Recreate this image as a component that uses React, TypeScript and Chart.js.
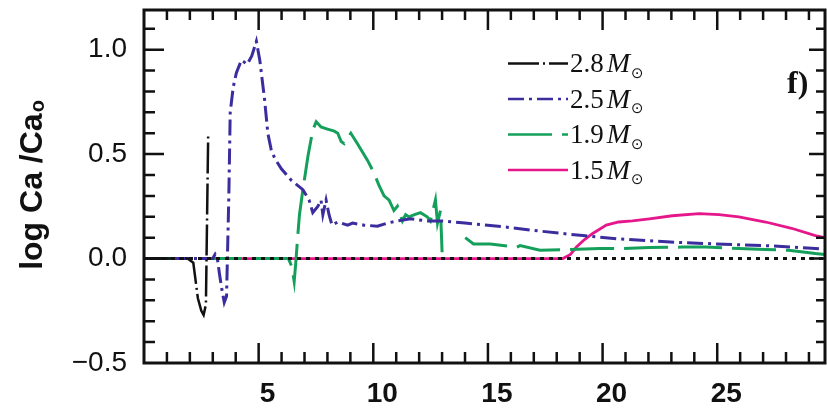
import React, { useEffect, useRef } from "react";
import { Chart, registerables } from "chart.js";
Chart.register(...registerables);

// ---- data ----
const zeroX = [0, 29.7];
const zeroY = [0, 0];

const m28X = [0, 1.9, 2.15, 2.35, 2.5, 2.6, 2.7, 2.8];
const m28Y = [0, 0, -0.02, -0.19, -0.25, -0.27, -0.22, 0.6];

const m25X = [0, 3.0, 3.1, 3.2, 3.3, 3.4, 3.5, 3.6, 3.7, 3.76, 3.89, 4.03, 4.25, 4.5, 4.7, 4.9, 5.05, 5.26, 5.4, 5.55, 5.7, 5.99, 6.42, 6.93, 7.2, 7.36, 7.58, 7.72, 7.8, 7.94, 8.07, 8.2, 8.45, 8.88, 9.1, 9.59, 10.18, 10.62, 11.05, 11.63, 12.35, 13.06, 14.0, 15.84, 16.96, 19.13, 20.6, 22.78, 24.95, 27.11, 29.28, 29.7];
const m25Y = [0, 0, 0.02, 0, -0.08, -0.15, -0.21, -0.18, 0.3, 0.7, 0.82, 0.89, 0.95, 0.93, 0.97, 1.04, 0.95, 0.76, 0.6, 0.52, 0.48, 0.43, 0.375, 0.33, 0.28, 0.22, 0.25, 0.28, 0.21, 0.28, 0.21, 0.16, 0.175, 0.16, 0.17, 0.16, 0.155, 0.17, 0.18, 0.19, 0.18, 0.18, 0.17, 0.15, 0.135, 0.11, 0.095, 0.08, 0.07, 0.062, 0.048, 0.045];

const m19X = [0, 6.3, 6.45, 6.55, 6.62, 6.7, 6.78, 6.93, 7.15, 7.36, 7.51, 7.72, 8.0, 8.3, 8.45, 8.6, 8.73, 9.02, 9.31, 9.75, 10.03, 10.25, 10.47, 10.69, 10.9, 11.05, 11.27, 11.41, 11.55, 11.8, 12.06, 12.35, 12.49, 12.71, 12.8, 12.93, 12.97, 13.0, 13.5, 14.01, 14.37, 15.1, 16.26, 16.4, 17.27, 18.42, 19.87, 20.87, 22.04, 23.47, 24.51, 27.11, 28.11, 29.28, 29.7];
const m19Y = [0, 0, -0.04, -0.11, -0.02, 0.1, 0.21, 0.33, 0.49, 0.615, 0.655, 0.63, 0.62, 0.61, 0.6, 0.56, 0.55, 0.6, 0.55, 0.47, 0.41, 0.35, 0.3, 0.28, 0.23, 0.25, 0.18, 0.21, 0.2, 0.21, 0.22, 0.2, 0.18, 0.28, 0.17, 0.23, 0.12, 0.03, null, 0.1, 0.07, 0.07, 0.055, 0.062, 0.04, 0.043, 0.048, 0.048, 0.053, 0.055, 0.055, 0.043, 0.04, 0.024, 0.02];

const m15X = [2.8, 18.27, 18.6, 18.86, 19.2, 19.57, 20.16, 20.7, 21.3, 22.04, 23.04, 24.21, 25.08, 25.94, 27.11, 28.24, 29.28, 29.7];
const m15Y = [0, 0, 0.02, 0.055, 0.09, 0.12, 0.16, 0.175, 0.18, 0.19, 0.205, 0.215, 0.21, 0.2, 0.175, 0.145, 0.11, 0.1];

const xMajorTicks = [5, 10, 15, 20, 25];
const yMajorTicks = [-0.5, 0, 0.5, 1.0];
const legendLabels = ["2.8", "2.5", "1.9", "1.5"];
const legendUnit = "M";
const legendSub = "\u2299";
const panelLabel = "f)";
const yTitleMain = "log Ca /Ca";
const yTitleSub = "o";

const X_MIN = 0, X_MAX = 29.7, Y_MIN = -0.5, Y_MAX = 1.19;

const colors = ["#111111", "#3b2d9e", "#14a05a", "#e5178b"];
const dashes = [[31, 4, 2, 4], [16, 5, 3, 5], [44, 10], []];
const widths = [2.5, 3, 3, 2.8];

const pts = (xs: number[], ys: (number | null)[]) => xs.map((x, i) => ({ x, y: ys[i] }));

const decorPlugin = {
  id: "decor",
  afterDraw(chart: any) {
    const { ctx, chartArea: a, scales } = chart;
    const xs = scales.x, ys = scales.y;
    ctx.save();
    ctx.strokeStyle = "#111";
    ctx.lineWidth = 3;
    ctx.setLineDash([]);
    ctx.strokeRect(a.left, a.top, a.right - a.left, a.bottom - a.top);
    ctx.lineWidth = 2.5;
    ctx.beginPath();
    for (let v = 1; v < 30; v++) {
      const px = xs.getPixelForValue(v);
      const major = v % 5 === 0;
      const lb = major ? 20 : 11;
      const lt = major ? 20 : 10;
      ctx.moveTo(px, a.bottom); ctx.lineTo(px, a.bottom - lb);
      ctx.moveTo(px, a.top); ctx.lineTo(px, a.top + lt);
    }
    for (let k = -4; k <= 11; k++) {
      const v = k / 10;
      const py = ys.getPixelForValue(v);
      const major = k % 5 === 0;
      const ll = major ? 20 : 11;
      const lr = major ? 16 : 9;
      ctx.moveTo(a.left, py); ctx.lineTo(a.left + ll, py);
      ctx.moveTo(a.right, py); ctx.lineTo(a.right - lr, py);
    }
    ctx.stroke();

    // legend
    for (let i = 0; i < legendLabels.length; i++) {
      const ly = 63.5 + i * 35.5;
      const base = 72 + i * 35.5;
      ctx.strokeStyle = colors[i];
      ctx.lineWidth = 2.5;
      ctx.setLineDash(dashes[i]);
      ctx.beginPath();
      ctx.moveTo(508, ly);
      ctx.lineTo(568, ly);
      ctx.stroke();
      ctx.setLineDash([]);
      ctx.fillStyle = "#111";
      ctx.textAlign = "left";
      ctx.textBaseline = "alphabetic";
      ctx.font = "27px 'Liberation Serif'";
      ctx.fillText(legendLabels[i], 570, base);
      const w = ctx.measureText(legendLabels[i]).width;
      ctx.font = "italic 28px 'Liberation Serif'";
      ctx.fillText(legendUnit, 570 + w + 3, base);
      const wm = ctx.measureText(legendUnit).width;
      ctx.font = "15px 'DejaVu Sans'";
      ctx.textBaseline = "middle";
      ctx.fillText(legendSub, 570 + w + 3 + wm + 1, base + 2);
    }

    // panel label
    ctx.fillStyle = "#111";
    ctx.textBaseline = "alphabetic";
    ctx.textAlign = "left";
    ctx.font = "bold 32px 'Liberation Serif'";
    ctx.fillText(panelLabel, 787, 93);

    // y title
    ctx.save();
    ctx.translate(42, 185);
    ctx.rotate(-Math.PI / 2);
    ctx.font = "bold 32px 'Liberation Sans'";
    const tw = ctx.measureText(yTitleMain).width;
    ctx.font = "bold 20px 'Liberation Sans'";
    const sw = ctx.measureText(yTitleSub).width;
    const start = -(tw + sw + 1) / 2;
    ctx.font = "bold 32px 'Liberation Sans'";
    ctx.fillText(yTitleMain, start, 0);
    ctx.font = "bold 20px 'Liberation Sans'";
    ctx.fillText(yTitleSub, start + tw + 1, 2);
    ctx.restore();
    ctx.restore();
  },
};

export default function App() {
  const ref = useRef<HTMLCanvasElement | null>(null);
  useEffect(() => {
    if (!ref.current) return;
    const series = [
      pts(m28X, m28Y),
      pts(m25X, m25Y),
      pts(m19X, m19Y),
      pts(m15X, m15Y),
    ];
    const datasets: any[] = [
      {
        label: "zero",
        data: pts(zeroX, zeroY),
        borderColor: "#111111",
        borderWidth: 3,
        borderDash: [4, 5],
        pointRadius: 0,
      },
      ...series.map((d, i) => ({
        label: legendLabels[i],
        data: d,
        borderColor: colors[i],
        borderWidth: widths[i],
        borderDash: dashes[i],
        pointRadius: 0,
        tension: 0,
        spanGaps: false,
      })),
    ];
    const chart = new Chart(ref.current, {
      type: "line",
      data: { datasets },
      options: {
        animation: false,
        responsive: false,
        devicePixelRatio: 1,
        layout: { padding: { left: 0, top: 10, right: 2, bottom: 0 } },
        plugins: { legend: { display: false }, tooltip: { enabled: false } },
        scales: {
          x: {
            type: "linear",
            min: X_MIN,
            max: X_MAX,
            grid: { display: false, drawTicks: false },
            border: { display: false },
            ticks: {
              color: "#111",
              padding: 14,
              labelOffset: 9,
              maxRotation: 0,
              font: { family: "'Liberation Sans'", size: 28, weight: "bold" },
              callback: (v: any) => String(v),
            },
            afterBuildTicks: (s: any) => {
              s.ticks = xMajorTicks.map((v) => ({ value: v }));
            },
            afterFit: (s: any) => {
              s.height = 46;
              s.paddingLeft = 0;
              s.paddingRight = 0;
            },
          },
          y: {
            type: "linear",
            min: Y_MIN,
            max: Y_MAX,
            grid: { display: false, drawTicks: false },
            border: { display: false },
            ticks: {
              color: "#111",
              padding: 17,
              font: { family: "'Liberation Sans'", size: 28 },
              callback: (v: any) => {
                const n = Number(v);
                return n < 0 ? "\u2212" + Math.abs(n).toFixed(1) : n.toFixed(1);
              },
            },
            afterBuildTicks: (s: any) => {
              s.ticks = yMajorTicks.map((v) => ({ value: v }));
            },
            afterFit: (s: any) => {
              s.width = 144;
              s.paddingTop = 0;
              s.paddingBottom = 0;
            },
          },
        },
      },
      plugins: [decorPlugin],
    });
    return () => chart.destroy();
  }, []);
  return (
    <div style={{ position: "fixed", left: 0, top: 0, width: 827, height: 409, background: "#fff" }}>
      <canvas ref={ref} width={827} height={409} style={{ width: 827, height: 409, display: "block" }} />
    </div>
  );
}
